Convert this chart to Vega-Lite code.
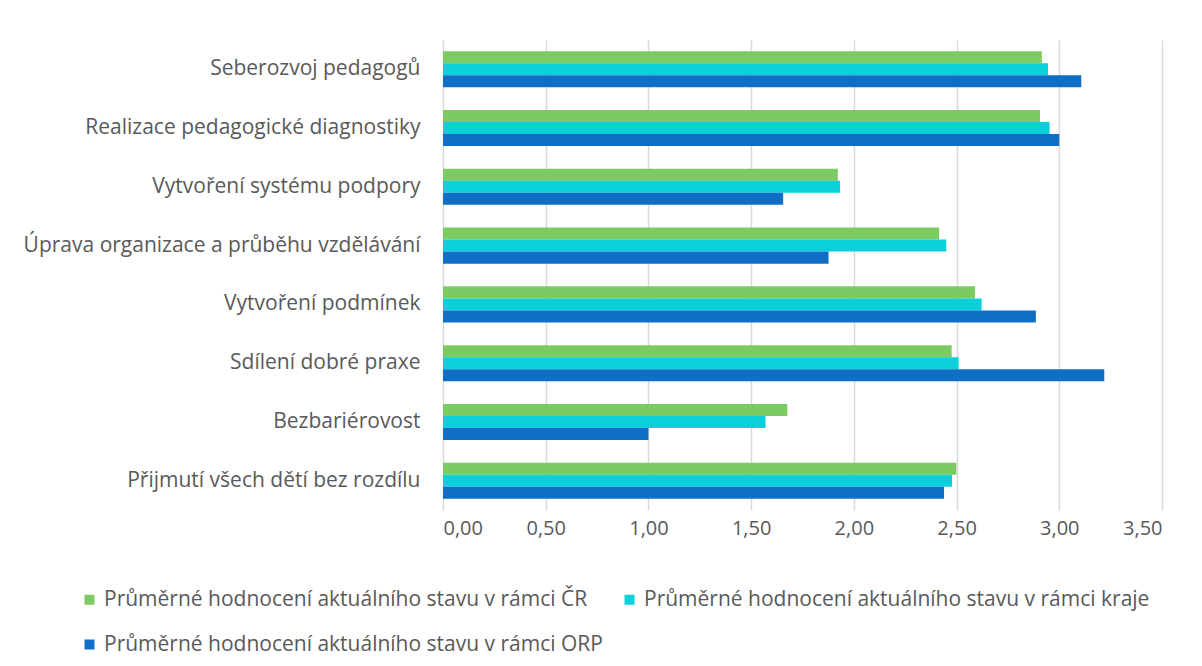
{
  "$schema": "https://vega.github.io/schema/vega-lite/v6.json",
  "width": 719,
  "height": 470,
  "autosize": {"type": "none"},
  "padding": {"left": 443, "top": 40, "right": 40, "bottom": 156},
  "background": "white",
  "config": {
    "locale": {"number": {"decimal": ",", "thousands": " ", "grouping": [3], "currency": ["", " Kč"]}},
    "font": "Open Sans",
    "view": {"stroke": null},
    "axis": {"labelColor": "#595959", "labelFont": "Open Sans", "labelFontSize": 20},
    "legend": {"labelColor": "#595959", "labelFont": "Open Sans", "labelFontSize": 21}
  },
  "data": {
    "values": [
      {"kategorie": "Seberozvoj pedagogů", "serie": "Průměrné hodnocení aktuálního stavu  v rámci ČR", "hodnota": 2.915},
      {"kategorie": "Seberozvoj pedagogů", "serie": "Průměrné hodnocení aktuálního stavu  v rámci kraje", "hodnota": 2.945},
      {"kategorie": "Seberozvoj pedagogů", "serie": "Průměrné hodnocení aktuálního stavu  v rámci ORP", "hodnota": 3.107},
      {"kategorie": "Realizace pedagogické diagnostiky", "serie": "Průměrné hodnocení aktuálního stavu  v rámci ČR", "hodnota": 2.906},
      {"kategorie": "Realizace pedagogické diagnostiky", "serie": "Průměrné hodnocení aktuálního stavu  v rámci kraje", "hodnota": 2.953},
      {"kategorie": "Realizace pedagogické diagnostiky", "serie": "Průměrné hodnocení aktuálního stavu  v rámci ORP", "hodnota": 3.0},
      {"kategorie": "Vytvoření systému podpory", "serie": "Průměrné hodnocení aktuálního stavu  v rámci ČR", "hodnota": 1.922},
      {"kategorie": "Vytvoření systému podpory", "serie": "Průměrné hodnocení aktuálního stavu  v rámci kraje", "hodnota": 1.933},
      {"kategorie": "Vytvoření systému podpory", "serie": "Průměrné hodnocení aktuálního stavu  v rámci ORP", "hodnota": 1.656},
      {"kategorie": "Úprava organizace a průběhu vzdělávání", "serie": "Průměrné hodnocení aktuálního stavu  v rámci ČR", "hodnota": 2.415},
      {"kategorie": "Úprava organizace a průběhu vzdělávání", "serie": "Průměrné hodnocení aktuálního stavu  v rámci kraje", "hodnota": 2.45},
      {"kategorie": "Úprava organizace a průběhu vzdělávání", "serie": "Průměrné hodnocení aktuálního stavu  v rámci ORP", "hodnota": 1.877},
      {"kategorie": "Vytvoření podmínek ", "serie": "Průměrné hodnocení aktuálního stavu  v rámci ČR", "hodnota": 2.59},
      {"kategorie": "Vytvoření podmínek ", "serie": "Průměrné hodnocení aktuálního stavu  v rámci kraje", "hodnota": 2.622},
      {"kategorie": "Vytvoření podmínek ", "serie": "Průměrné hodnocení aktuálního stavu  v rámci ORP", "hodnota": 2.886},
      {"kategorie": "Sdílení dobré praxe", "serie": "Průměrné hodnocení aktuálního stavu  v rámci ČR", "hodnota": 2.476},
      {"kategorie": "Sdílení dobré praxe", "serie": "Průměrné hodnocení aktuálního stavu  v rámci kraje", "hodnota": 2.51},
      {"kategorie": "Sdílení dobré praxe", "serie": "Průměrné hodnocení aktuálního stavu  v rámci ORP", "hodnota": 3.219},
      {"kategorie": "Bezbariérovost", "serie": "Průměrné hodnocení aktuálního stavu  v rámci ČR", "hodnota": 1.676},
      {"kategorie": "Bezbariérovost", "serie": "Průměrné hodnocení aktuálního stavu  v rámci kraje", "hodnota": 1.57},
      {"kategorie": "Bezbariérovost", "serie": "Průměrné hodnocení aktuálního stavu  v rámci ORP", "hodnota": 1.0},
      {"kategorie": "Přijmutí všech dětí bez rozdílu", "serie": "Průměrné hodnocení aktuálního stavu  v rámci ČR", "hodnota": 2.499},
      {"kategorie": "Přijmutí všech dětí bez rozdílu", "serie": "Průměrné hodnocení aktuálního stavu  v rámci kraje", "hodnota": 2.478},
      {"kategorie": "Přijmutí všech dětí bez rozdílu", "serie": "Průměrné hodnocení aktuálního stavu  v rámci ORP", "hodnota": 2.439}
    ]
  },
  "mark": {"type": "bar"},
  "encoding": {
    "y": {
      "field": "kategorie",
      "type": "nominal",
      "sort": null,
      "scale": {"paddingInner": 0.387, "paddingOuter": 0.193},
      "axis": {"title": null, "ticks": false, "domain": false, "labelPadding": 23, "labelLimit": 0, "grid": false, "labelFontSize": 21}
    },
    "x": {
      "field": "hodnota",
      "type": "quantitative",
      "scale": {"domain": [0, 3.5], "nice": false},
      "axis": {"title": null, "format": ".2f", "values": [0, 0.5, 1, 1.5, 2, 2.5, 3, 3.5], "domain": false, "ticks": false, "grid": true, "gridColor": "#d9d9d9", "gridWidth": 1.5, "labelPadding": 8}
    },
    "yOffset": {
      "field": "serie",
      "type": "nominal",
      "sort": null,
      "scale": {"paddingInner": 0, "paddingOuter": 0}
    },
    "color": {
      "field": "serie",
      "type": "nominal",
      "scale": {
        "domain": ["Průměrné hodnocení aktuálního stavu  v rámci ČR", "Průměrné hodnocení aktuálního stavu  v rámci ORP", "Průměrné hodnocení aktuálního stavu  v rámci kraje"],
        "range": ["#7CCA62", "#0F6FC6", "#0BD0D9"]
      },
      "legend": {
        "title": null,
        "orient": "none",
        "legendX": -364,
        "legendY": 549,
        "columns": 2,
        "columnPadding": 10,
        "rowPadding": 23,
        "symbolType": "square",
        "symbolSize": 100,
        "symbolStrokeWidth": 0,
        "labelOffset": 4,
        "labelLimit": 0
      }
    }
  }
}
